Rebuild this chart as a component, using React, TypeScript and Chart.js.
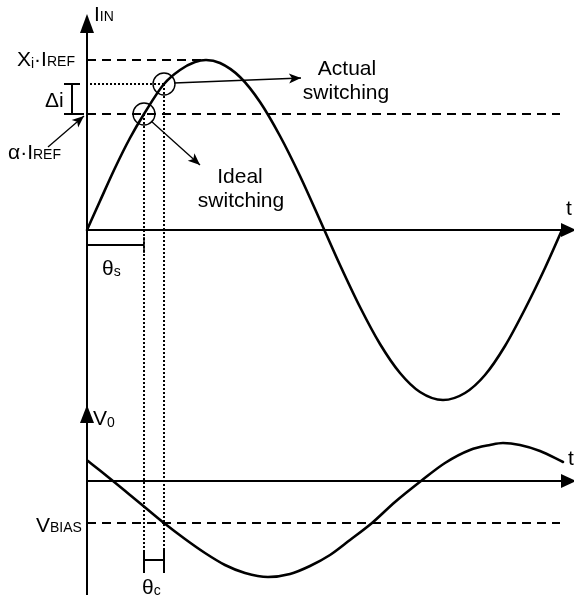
import { useEffect, useRef } from "react";
import { Chart, registerables } from "chart.js";

Chart.register(...registerables);

// Diagram coordinates: t runs left to right, the vertical value grows downward (0..600).

// Input current I_IN sampled along t (upper panel)
const tUpper = [87, 100, 115, 130, 144, 164, 180, 195, 206, 220, 240, 260, 280, 300, 323, 340, 360, 380, 400, 420, 443, 465, 485, 505, 525, 545, 562];
const iIn = [230, 201, 168, 138, 114, 84, 70, 62, 60, 63, 77, 102, 136, 176, 227, 265, 307, 344, 373, 392, 400, 393, 375, 346, 309, 268, 230];

// Output voltage V_0 sampled along t (lower panel)
const tLower = [88, 100, 113, 130, 147, 164, 185, 205, 225, 245, 268, 290, 310, 330, 350, 372, 395, 421, 445, 470, 490, 503, 520, 540, 563];
const v0 = [461, 470.5, 481, 495, 509, 523, 539, 553, 565, 573, 577, 574, 566, 555, 540, 523, 502, 481, 463, 450, 445, 443, 445, 451, 462];

// Reference levels
const axisX = 87;
const upperZero = 230;
const lowerZero = 481;
const xiLevel = 60;
const alphaLevel = 114;
const vBiasLevel = 523;

// Switching instants (ideal, actual) and the current at each
const switchT = [144, 164];
const switchI = [114, 84];

type Pt = { x: number; y: number };
const pts = (xs: number[], ys: number[]): Pt[] => xs.map((x, k) => ({ x, y: ys[k] }));

function segment(data: Pt[], width: number, dash: number[] = [], cap: CanvasLineCap = "butt") {
  return {
    data,
    showLine: true,
    pointRadius: 0,
    borderColor: "#000",
    borderWidth: width,
    borderDash: dash,
    borderCapStyle: cap,
    tension: 0,
    fill: false,
    clip: false as const,
  };
}

const FONT = '"Liberation Sans", Arial, sans-serif';

type Part = { t: string; size: number; dy?: number };

function rich(ctx: CanvasRenderingContext2D, x: number, y: number, parts: Part[]) {
  let cx = x;
  ctx.textAlign = "left";
  ctx.textBaseline = "alphabetic";
  for (const p of parts) {
    ctx.font = `${p.size}px ${FONT}`;
    ctx.fillText(p.t, cx, y + (p.dy ?? 0));
    cx += ctx.measureText(p.t).width;
  }
}

function head(ctx: CanvasRenderingContext2D, fx: number, fy: number, tx: number, ty: number, len: number, half: number, notch = 0) {
  const a = Math.atan2(ty - fy, tx - fx);
  const c = Math.cos(a), s = Math.sin(a);
  const bx = tx - c * len, by = ty - s * len;
  ctx.beginPath();
  ctx.moveTo(tx, ty);
  ctx.lineTo(bx - s * half, by + c * half);
  ctx.lineTo(tx - c * (len - notch), ty - s * (len - notch));
  ctx.lineTo(bx + s * half, by - c * half);
  ctx.closePath();
  ctx.fill();
}

const overlay = {
  id: "overlay",
  afterDatasetsDraw(chart: Chart) {
    const ctx = chart.ctx;
    const sx = chart.scales.x, sy = chart.scales.y;
    const X = (v: number) => sx.getPixelForValue(v);
    const Y = (v: number) => sy.getPixelForValue(v);
    ctx.save();
    ctx.fillStyle = "#000";
    ctx.strokeStyle = "#000";

    // axis arrowheads
    head(ctx, X(axisX), Y(100), X(axisX), Y(14), 19, 7);
    head(ctx, X(axisX), Y(500), X(axisX), Y(405), 18, 7);
    head(ctx, X(300), Y(upperZero), X(576), Y(upperZero), 15, 7);
    head(ctx, X(300), Y(lowerZero), X(576), Y(lowerZero), 15, 7);

    // callout arrows
    ctx.lineWidth = 1.3;
    const callout = (fx: number, fy: number, tx: number, ty: number) => {
      ctx.beginPath();
      ctx.moveTo(X(fx), Y(fy));
      ctx.lineTo(X(tx), Y(ty));
      ctx.stroke();
      head(ctx, X(fx), Y(fy), X(tx), Y(ty), 12, 5, 3);
    };
    callout(174, 83, 301, 78);
    callout(151, 121, 200, 165);
    callout(48, 147, 84, 116);

    // labels
    const M = 21, S = 14;
    rich(ctx, X(94), Y(21), [{ t: "I", size: M }, { t: "IN", size: S }]);
    rich(ctx, X(17), Y(66), [
      { t: "X", size: M },
      { t: "i", size: S, dy: 2 },
      { t: "·", size: M },
      { t: "I", size: M },
      { t: "REF", size: S },
    ]);
    rich(ctx, X(8), Y(159), [
      { t: "α", size: M },
      { t: "·", size: M },
      { t: "I", size: M },
      { t: "REF", size: S },
    ]);
    rich(ctx, X(45), Y(107), [{ t: "Δi", size: M }]);
    rich(ctx, X(102), Y(275), [{ t: "θ", size: M }, { t: "s", size: S, dy: 1 }]);
    rich(ctx, X(142), Y(594), [{ t: "θ", size: M }, { t: "c", size: S, dy: 1 }]);
    rich(ctx, X(36), Y(532), [{ t: "V", size: M }, { t: "BIAS", size: S }]);
    rich(ctx, X(93), Y(425), [{ t: "V", size: M }, { t: "0", size: S, dy: 2 }]);
    rich(ctx, X(566), Y(215), [{ t: "t", size: M }]);
    rich(ctx, X(568), Y(465), [{ t: "t", size: M }]);

    ctx.font = `${M}px ${FONT}`;
    ctx.textAlign = "center";
    ctx.fillText("Actual", X(347), Y(75));
    ctx.fillText("switching", X(346), Y(99));
    ctx.fillText("Ideal", X(240), Y(183));
    ctx.fillText("switching", X(241), Y(207));
    ctx.restore();
  },
};

export default function App() {
  const ref = useRef<HTMLCanvasElement | null>(null);

  useEffect(() => {
    if (!ref.current) return;
    const dashed = [9, 6];
    const dotted = [2, 2];
    const [tIdeal, tActual] = switchT;
    const [iIdeal, iActual] = switchI;

    const datasets: any[] = [
      // axes
      segment([{ x: axisX, y: 25 }, { x: axisX, y: 595 }], 2),
      segment([{ x: axisX, y: upperZero }, { x: 563, y: upperZero }], 2),
      segment([{ x: axisX, y: lowerZero }, { x: 563, y: lowerZero }], 2),
      // reference levels
      segment([{ x: axisX, y: xiLevel }, { x: 202, y: xiLevel }], 2, dashed),
      segment([{ x: axisX, y: alphaLevel }, { x: 560, y: alphaLevel }], 2, dashed),
      segment([{ x: axisX, y: vBiasLevel }, { x: 560, y: vBiasLevel }], 2, dashed),
      // switching projections
      segment([{ x: 90, y: iActual }, { x: tActual, y: iActual }], 2, dotted),
      segment([{ x: tIdeal, y: iIdeal }, { x: tIdeal, y: 550 }], 2, dotted),
      segment([{ x: tActual, y: iActual }, { x: tActual, y: 550 }], 2, dotted),
      // delta-i bracket
      segment([{ x: 72, y: iActual }, { x: 72, y: alphaLevel }], 2),
      segment([{ x: 64, y: iActual }, { x: 80, y: iActual }], 2),
      segment([{ x: 64, y: alphaLevel }, { x: 84, y: alphaLevel }], 2),
      // theta_s bracket
      segment([{ x: axisX, y: 245 }, { x: tIdeal, y: 245 }], 2),
      segment([{ x: tIdeal, y: 237 }, { x: tIdeal, y: 253 }], 1.5),
      // theta_c bracket
      segment([{ x: tIdeal, y: 550 }, { x: tIdeal, y: 573 }], 2),
      segment([{ x: tActual, y: 550 }, { x: tActual, y: 573 }], 2),
      segment([{ x: tIdeal, y: 560 }, { x: tActual, y: 560 }], 2),
      // waveforms
      {
        ...segment(pts(tUpper, iIn), 2.6, [], "round"),
        cubicInterpolationMode: "monotone",
        borderJoinStyle: "round",
      },
      {
        ...segment(pts(tLower, v0), 2.6, [], "round"),
        cubicInterpolationMode: "monotone",
        borderJoinStyle: "round",
      },
      // switching circles
      {
        data: pts(switchT, switchI),
        showLine: false,
        pointStyle: "circle",
        pointRadius: 11,
        pointBorderWidth: 1.4,
        pointBorderColor: "#000",
        pointBackgroundColor: "rgba(0,0,0,0)",
        clip: false,
      },
    ];

    const chart = new Chart(ref.current, {
      type: "scatter",
      data: { datasets },
      options: {
        animation: false,
        responsive: false,
        devicePixelRatio: 1,
        events: [],
        layout: { padding: 0, autoPadding: false },
        plugins: { legend: { display: false }, tooltip: { enabled: false } },
        scales: {
          x: { type: "linear", min: 0, max: 574, display: false },
          y: { type: "linear", min: 0, max: 600, reverse: true, display: false },
        },
      },
      plugins: [overlay],
    });
    return () => chart.destroy();
  }, []);

  return (
    <div style={{ position: "fixed", left: 0, top: 0, width: 574, height: 600, background: "#fff" }}>
      <canvas ref={ref} width={574} height={600} />
    </div>
  );
}
